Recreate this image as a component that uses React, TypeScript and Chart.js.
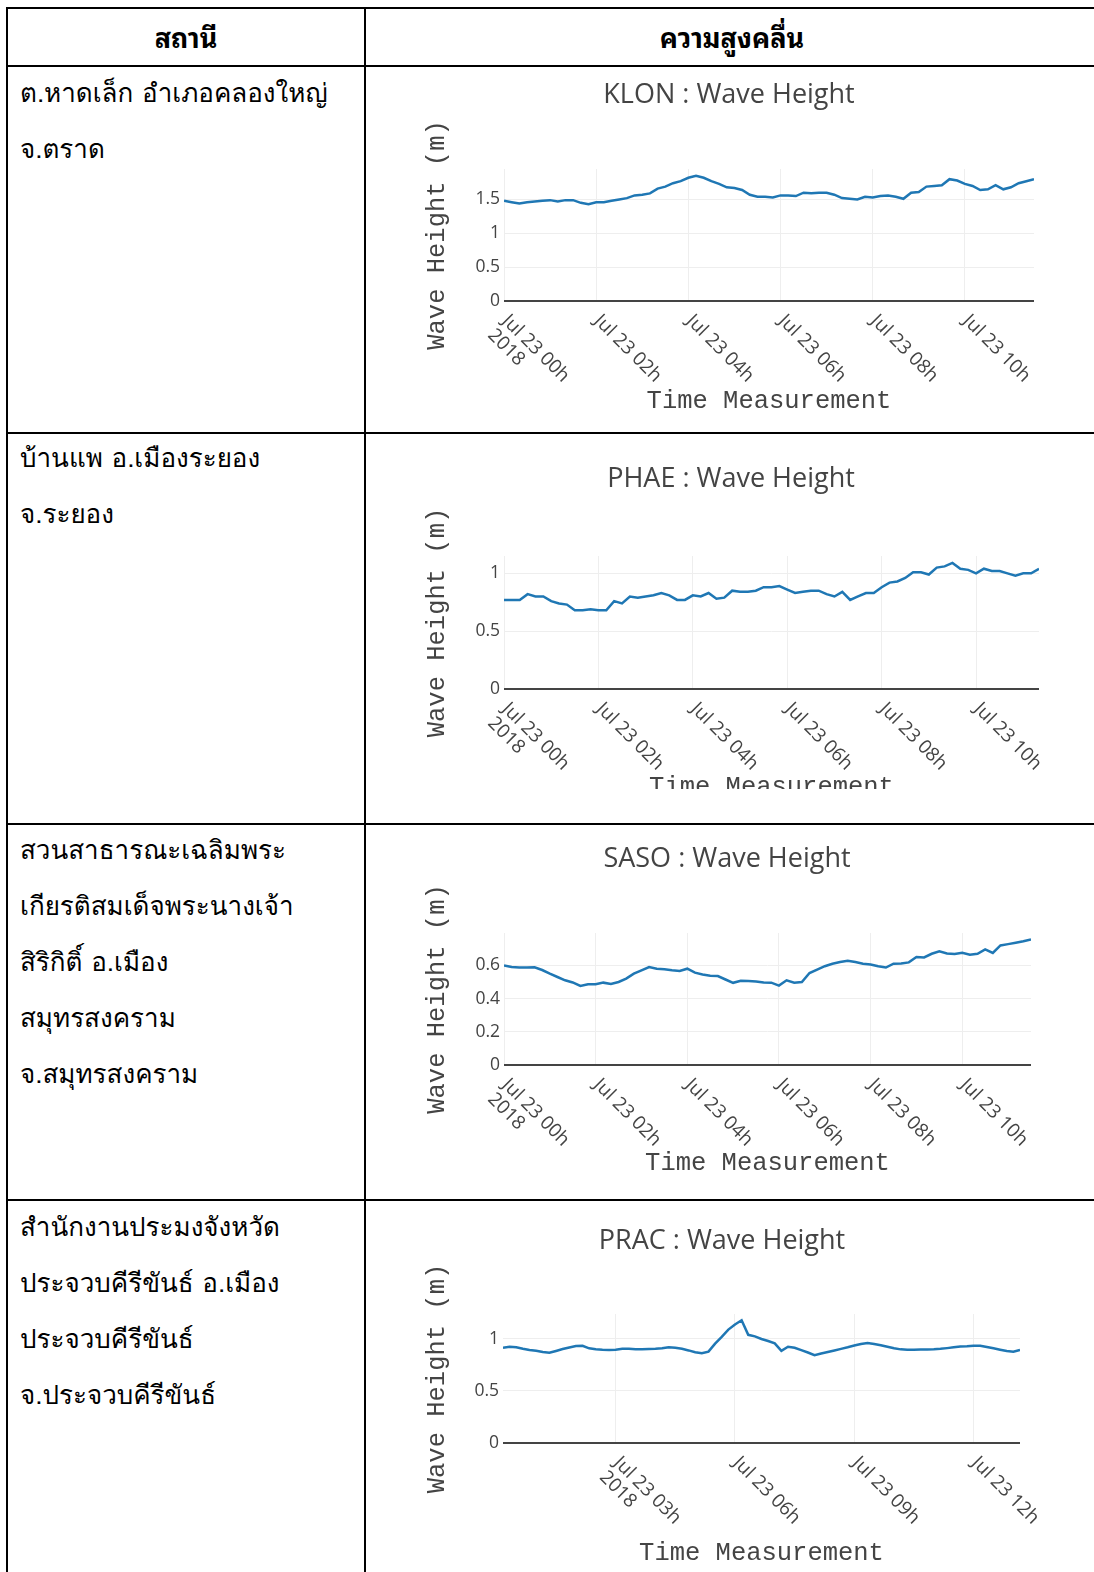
import React, { useEffect, useRef } from "react";
import { Chart, registerables } from "chart.js";

Chart.register(...registerables);

// ---------------- Data ----------------
const HEADER_LABELS = ["สถานี", "ความสูงคลื่น"];

const STATION_CODES = ["KLON", "PHAE", "SASO", "PRAC"];

const STATION_NAMES = [
  ["ต.หาดเล็ก อำเภอคลองใหญ่", "จ.ตราด"],
  ["บ้านแพ อ.เมืองระยอง", "จ.ระยอง"],
  ["สวนสาธารณะเฉลิมพระ", "เกียรติสมเด็จพระนางเจ้า", "สิริกิติ์ อ.เมือง", "สมุทรสงคราม", "จ.สมุทรสงคราม"],
  ["สำนักงานประมงจังหวัด", "ประจวบคีรีขันธ์ อ.เมือง", "ประจวบคีรีขันธ์", "จ.ประจวบคีรีขันธ์"],
];

const KLON_TIMES = [
  "00:00","00:10","00:20","00:30","00:40","00:50",
  "01:00","01:10","01:20","01:30","01:40","01:50",
  "02:00","02:10","02:20","02:30","02:40","02:50",
  "03:00","03:10","03:20","03:30","03:40","03:50",
  "04:00","04:10","04:20","04:30","04:40","04:50",
  "05:00","05:10","05:20","05:30","05:40","05:50",
  "06:00","06:10","06:20","06:30","06:40","06:50",
  "07:00","07:10","07:20","07:30","07:40","07:50",
  "08:00","08:10","08:20","08:30","08:40","08:50",
  "09:00","09:10","09:20","09:30","09:40","09:50",
  "10:00","10:10","10:20","10:30","10:40","10:50",
  "11:00","11:10","11:20","11:30",
];
const KLON_VALUES = [
  1.48, 1.46, 1.44, 1.46, 1.47, 1.48, 1.49, 1.47, 1.49, 1.49,
  1.45, 1.43, 1.46, 1.46, 1.48, 1.50, 1.52, 1.56, 1.57, 1.59,
  1.66, 1.69, 1.74, 1.77, 1.82, 1.85, 1.82, 1.77, 1.73, 1.68,
  1.67, 1.64, 1.57, 1.54, 1.54, 1.53, 1.56, 1.56, 1.55, 1.60,
  1.59, 1.60, 1.60, 1.57, 1.52, 1.51, 1.50, 1.54, 1.53, 1.55,
  1.56, 1.54, 1.51, 1.60, 1.61, 1.69, 1.70, 1.71, 1.80, 1.78,
  1.73, 1.70, 1.64, 1.65, 1.71, 1.65, 1.68, 1.74, 1.77, 1.80,
];

const PHAE_TIMES = [
  "00:00","00:10","00:20","00:30","00:40","00:50",
  "01:00","01:10","01:20","01:30","01:40","01:50",
  "02:00","02:10","02:20","02:30","02:40","02:50",
  "03:00","03:10","03:20","03:30","03:40","03:50",
  "04:00","04:10","04:20","04:30","04:40","04:50",
  "05:00","05:10","05:20","05:30","05:40","05:50",
  "06:00","06:10","06:20","06:30","06:40","06:50",
  "07:00","07:10","07:20","07:30","07:40","07:50",
  "08:00","08:10","08:20","08:30","08:40","08:50",
  "09:00","09:10","09:20","09:30","09:40","09:50",
  "10:00","10:10","10:20","10:30","10:40","10:50",
  "11:00","11:10","11:20",
];
const PHAE_VALUES = [
  0.77, 0.77, 0.77, 0.82, 0.80, 0.80, 0.76, 0.74, 0.73, 0.68,
  0.68, 0.69, 0.68, 0.68, 0.76, 0.74, 0.80, 0.79, 0.80, 0.81,
  0.83, 0.81, 0.77, 0.77, 0.81, 0.80, 0.83, 0.78, 0.79, 0.85,
  0.84, 0.84, 0.85, 0.88, 0.88, 0.89, 0.86, 0.83, 0.84, 0.85,
  0.85, 0.82, 0.80, 0.84, 0.77, 0.80, 0.83, 0.83, 0.88, 0.92,
  0.93, 0.96, 1.01, 1.01, 0.99, 1.05, 1.06, 1.09, 1.04, 1.03,
  1.00, 1.04, 1.02, 1.02, 1.00, 0.98, 1.00, 1.00, 1.04,
];

const SASO_TIMES = [
  "00:00","00:10","00:20","00:30","00:40","00:50",
  "01:00","01:10","01:20","01:30","01:40","01:50",
  "02:00","02:10","02:20","02:30","02:40","02:50",
  "03:00","03:10","03:20","03:30","03:40","03:50",
  "04:00","04:10","04:20","04:30","04:40","04:50",
  "05:00","05:10","05:20","05:30","05:40","05:50",
  "06:00","06:10","06:20","06:30","06:40","06:50",
  "07:00","07:10","07:20","07:30","07:40","07:50",
  "08:00","08:10","08:20","08:30","08:40","08:50",
  "09:00","09:10","09:20","09:30","09:40","09:50",
  "10:00","10:10","10:20","10:30","10:40","10:50",
  "11:00","11:10","11:20","11:30",
];
const SASO_VALUES = [
  0.600, 0.590, 0.587, 0.587, 0.588, 0.572, 0.550, 0.530, 0.510, 0.497,
  0.476, 0.486, 0.486, 0.496, 0.488, 0.500, 0.520, 0.550, 0.570, 0.590,
  0.580, 0.576, 0.570, 0.566, 0.580, 0.556, 0.545, 0.538, 0.536, 0.515,
  0.495, 0.507, 0.506, 0.503, 0.497, 0.496, 0.478, 0.510, 0.496, 0.500,
  0.554, 0.575, 0.595, 0.610, 0.620, 0.628, 0.620, 0.610, 0.605, 0.595,
  0.587, 0.610, 0.612, 0.618, 0.650, 0.648, 0.670, 0.685, 0.672, 0.668,
  0.676, 0.664, 0.670, 0.696, 0.675, 0.720, 0.728, 0.736, 0.745, 0.756,
];

const PRAC_TIMES = [
  "00:10","00:20","00:30","00:40","00:50",
  "01:00","01:10","01:20","01:30","01:40","01:50",
  "02:00","02:10","02:20","02:30","02:40","02:50",
  "03:00","03:10","03:20","03:30","03:40","03:50",
  "04:00","04:10","04:20","04:30","04:40","04:50",
  "05:00","05:10","05:20","05:30","05:40","05:50",
  "06:00","06:10","06:20","06:30","06:40","06:50",
  "07:00","07:10","07:20","07:30","07:40","07:50",
  "08:00","08:10","08:20","08:30","08:40","08:50",
  "09:00","09:10","09:20","09:30","09:40","09:50",
  "10:00","10:10","10:20","10:30","10:40","10:50",
  "11:00","11:10","11:20","11:30","11:40","11:50",
  "12:00","12:10","12:20","12:30","12:40","12:50",
  "13:00","13:10",
];
const PRAC_VALUES = [
  0.915, 0.925, 0.920, 0.906, 0.895, 0.886, 0.874, 0.867, 0.885, 0.903,
  0.918, 0.933, 0.935, 0.910, 0.902, 0.897, 0.895, 0.896, 0.905, 0.905,
  0.900, 0.900, 0.903, 0.905, 0.910, 0.920, 0.915, 0.905, 0.890, 0.873,
  0.862, 0.878, 0.955, 1.020, 1.090, 1.140, 1.180, 1.040, 1.025, 1.000,
  0.980, 0.958, 0.885, 0.925, 0.915, 0.893, 0.870, 0.845, 0.860, 0.875,
  0.890, 0.905, 0.920, 0.937, 0.952, 0.962, 0.952, 0.940, 0.925, 0.910,
  0.900, 0.897, 0.897, 0.898, 0.898, 0.900, 0.905, 0.912, 0.920, 0.927,
  0.930, 0.935, 0.935, 0.922, 0.910, 0.897, 0.885, 0.878, 0.895,
];

const TICK_TIMES_2H = ["00:00", "02:00", "04:00", "06:00", "08:00", "10:00"];
const TICK_LABELS_2H = [
  ["Jul 23 00h", "2018"], ["Jul 23 02h"], ["Jul 23 04h"],
  ["Jul 23 06h"], ["Jul 23 08h"], ["Jul 23 10h"],
];
const TICK_TIMES_3H = ["03:00", "06:00", "09:00", "12:00"];
const TICK_LABELS_3H = [["Jul 23 03h", "2018"], ["Jul 23 06h"], ["Jul 23 09h"], ["Jul 23 12h"]];

const KLON_Y_TICKS = [0, 0.5, 1, 1.5];
const PHAE_Y_TICKS = [0, 0.5, 1];
const SASO_Y_TICKS = [0, 0.2, 0.4, 0.6];
const PRAC_Y_TICKS = [0, 0.5, 1];

const Y_MAX = [1.95, 1.15, 0.795, 1.24];

const TITLE_SUFFIX = " : Wave Height";
const Y_TITLE = "Wave Height (m)";
const X_TITLE = "Time Measurement";

// ---------------- Layout (page pixels) ----------------
const BOXES = [
  { CL: 400, CT: 68, CW: 690, CH: 362, L: 504, R: 1034, T: 169, B: 301, titleX: 729, titleY: 95, xTitleY: 401, clip: 0 },
  { CL: 400, CT: 435, CW: 690, CH: 386, L: 504, R: 1039, T: 556, B: 689, titleX: 731, titleY: 479, xTitleY: 787, clip: 789 },
  { CL: 400, CT: 827, CW: 690, CH: 370, L: 504, R: 1031, T: 933, B: 1065, titleX: 727, titleY: 859, xTitleY: 1163, clip: 0 },
  { CL: 400, CT: 1203, CW: 690, CH: 369, L: 503, R: 1020, T: 1314, B: 1443, titleX: 722, titleY: 1241, xTitleY: 1553, clip: 0 },
];

const SERIES = [
  { times: KLON_TIMES, values: KLON_VALUES, tickTimes: TICK_TIMES_2H, tickLabels: TICK_LABELS_2H, yTicks: KLON_Y_TICKS },
  { times: PHAE_TIMES, values: PHAE_VALUES, tickTimes: TICK_TIMES_2H, tickLabels: TICK_LABELS_2H, yTicks: PHAE_Y_TICKS },
  { times: SASO_TIMES, values: SASO_VALUES, tickTimes: TICK_TIMES_2H, tickLabels: TICK_LABELS_2H, yTicks: SASO_Y_TICKS },
  { times: PRAC_TIMES, values: PRAC_VALUES, tickTimes: TICK_TIMES_3H, tickLabels: TICK_LABELS_3H, yTicks: PRAC_Y_TICKS },
];

const TEXT_COLOR = "#444";
const SANS = "'Open Sans', 'Noto Sans', sans-serif";
const MONO = "'Liberation Mono', 'Courier New', monospace";
const TITLE_PX = 27;
const TICK_PX = 17.5;
const X_TICK_PX = 19;
const AXIS_TITLE_PX = 25.5;
const X_LABEL_LINE = 20;

function toMin(t: string): number {
  const [h, m] = t.split(":").map(Number);
  return h * 60 + m;
}

function WaveChart({ index }: { index: number }) {
  const ref = useRef<HTMLCanvasElement | null>(null);
  const box = BOXES[index];
  const s = SERIES[index];

  useEffect(() => {
    const canvas = ref.current;
    if (!canvas) return;
    const { CL, CT, CW, CH, L, R, T, B, titleX, titleY, xTitleY } = box;
    const axisLH = AXIS_TITLE_PX * 1.2;

    const overlay = {
      id: "plotlyText" + index,
      afterDraw(chart: any) {
        const ctx = chart.ctx;
        ctx.save();
        ctx.fillStyle = TEXT_COLOR;
        ctx.font = `${TITLE_PX}px ${SANS}`;
        ctx.textAlign = "center";
        ctx.textBaseline = "middle";
        ctx.fillText(STATION_CODES[index] + TITLE_SUFFIX, titleX - CL, titleY - CT);

        const xs = chart.scales.x;
        const bottom = chart.chartArea.bottom;
        ctx.font = `${X_TICK_PX}px ${SANS}`;
        ctx.textAlign = "left";
        ctx.textBaseline = "middle";
        s.tickTimes.forEach((t: string, i: number) => {
          const px = xs.getPixelForValue(toMin(t));
          ctx.save();
          ctx.translate(px + 1, bottom + 17);
          ctx.rotate(Math.PI / 4);
          s.tickLabels[i].forEach((ln: string, j: number) => {
            ctx.fillText(ln, 0, j * X_LABEL_LINE);
          });
          ctx.restore();
        });
        ctx.restore();
      },
    };

    const chart = new Chart(canvas, {
      type: "line",
      data: {
        datasets: [
          {
            data: s.times.map((t: string, i: number) => ({ x: toMin(t), y: s.values[i] })),
            borderColor: "#1f77b4",
            borderWidth: 2.5,
            pointRadius: 0,
            tension: 0,
            fill: false,
          },
        ],
      },
      options: {
        animation: false,
        responsive: true,
        maintainAspectRatio: false,
        layout: { padding: { left: 0, top: T - CT, right: CL + CW - R, bottom: 0 } },
        plugins: { legend: { display: false }, tooltip: { enabled: false }, title: { display: false } },
        scales: {
          x: {
            type: "linear",
            min: toMin(s.times[0]),
            max: toMin(s.times[s.times.length - 1]),
            afterBuildTicks: (sc: any) => {
              sc.ticks = s.tickTimes.map((t: string) => ({ value: toMin(t) }));
            },
            afterFit: (sc: any) => {
              sc.height = CT + CH - B;
            },
            ticks: { display: false },
            grid: { color: "#eeeeee", lineWidth: 1, drawTicks: false },
            border: { display: false },
            title: {
              display: true,
              text: X_TITLE,
              color: TEXT_COLOR,
              font: { family: MONO, size: AXIS_TITLE_PX },
              padding: { top: 0, bottom: CT + CH - xTitleY - axisLH / 2 },
            },
          },
          y: {
            type: "linear",
            min: 0,
            max: Y_MAX[index],
            afterBuildTicks: (sc: any) => {
              sc.ticks = s.yTicks.map((v: number) => ({ value: v }));
            },
            afterFit: (sc: any) => {
              sc.width = L - CL;
            },
            ticks: {
              color: TEXT_COLOR,
              font: { family: SANS, size: TICK_PX },
              padding: 4,
              callback: (v: any) => String(v),
            },
            grid: {
              color: (c: any) => (c.tick && c.tick.value === 0 ? "#444444" : "#eeeeee"),
              lineWidth: (c: any) => (c.tick && c.tick.value === 0 ? 2 : 1),
              drawTicks: false,
            },
            border: { display: false },
            title: {
              display: true,
              text: Y_TITLE,
              color: TEXT_COLOR,
              font: { family: MONO, size: AXIS_TITLE_PX },
              padding: { top: 437 - CL - axisLH / 2, bottom: 0 },
            },
          },
        },
      } as any,
      plugins: [overlay],
    });
    return () => chart.destroy();
  }, []);

  return (
    <div
      style={{
        position: "absolute",
        left: box.CL,
        top: box.CT,
        width: box.CW,
        height: box.clip ? box.clip - box.CT : box.CH,
        overflow: "hidden",
      }}
    >
      <div style={{ position: "absolute", left: 0, top: 0, width: box.CW, height: box.CH }}>
        <canvas ref={ref} />
      </div>
    </div>
  );
}

const THAI_FONT = "'Loma', 'Garuda', 'Noto Sans Thai', 'Noto Sans Thai Looped', 'Tahoma', 'DejaVu Sans', sans-serif";
const THAI_HEADER_FONT = "'Garuda', 'Noto Sans Thai Looped', 'Loma', 'Noto Sans Thai', 'Tahoma', sans-serif";

const ROW_FIRST_LINE = [95, 460, 852, 1229];
const LINE_STEP = 56;

const H_LINES = [7, 65, 432, 823, 1199];
const V_LINES = [6, 364];

export default function App() {
  return (
    <div style={{ position: "absolute", left: 0, top: 0, width: 1094, height: 1572, background: "#fff", overflow: "hidden" }}>
      {H_LINES.map((y) => (
        <div key={"h" + y} style={{ position: "absolute", left: 6, top: y, width: 1088, height: 2, background: "#000" }} />
      ))}
      {V_LINES.map((x) => (
        <div key={"v" + x} style={{ position: "absolute", left: x, top: 7, width: 2, height: 1565, background: "#000" }} />
      ))}
      <div style={{ position: "absolute", left: 8, width: 356, top: 16, height: 40, lineHeight: "40px", textAlign: "center", fontFamily: THAI_HEADER_FONT, fontWeight: 700, fontSize: 27, color: "#000" }}>
        {HEADER_LABELS[0]}
      </div>
      <div style={{ position: "absolute", left: 532, width: 400, top: 16, height: 40, lineHeight: "40px", textAlign: "center", fontFamily: THAI_HEADER_FONT, fontWeight: 700, fontSize: 27, color: "#000" }}>
        {HEADER_LABELS[1]}
      </div>
      {STATION_NAMES.map((lines, r) =>
        lines.map((ln, j) => (
          <div
            key={r + "-" + j}
            style={{
              position: "absolute",
              left: 20,
              top: ROW_FIRST_LINE[r] + j * LINE_STEP - 22,
              height: 40,
              lineHeight: "40px",
              whiteSpace: "nowrap",
              fontFamily: THAI_FONT,
              fontSize: 26,
              color: "#000",
            }}
          >
            {ln}
          </div>
        ))
      )}
      {BOXES.map((_, i) => (
        <WaveChart key={i} index={i} />
      ))}
    </div>
  );
}
